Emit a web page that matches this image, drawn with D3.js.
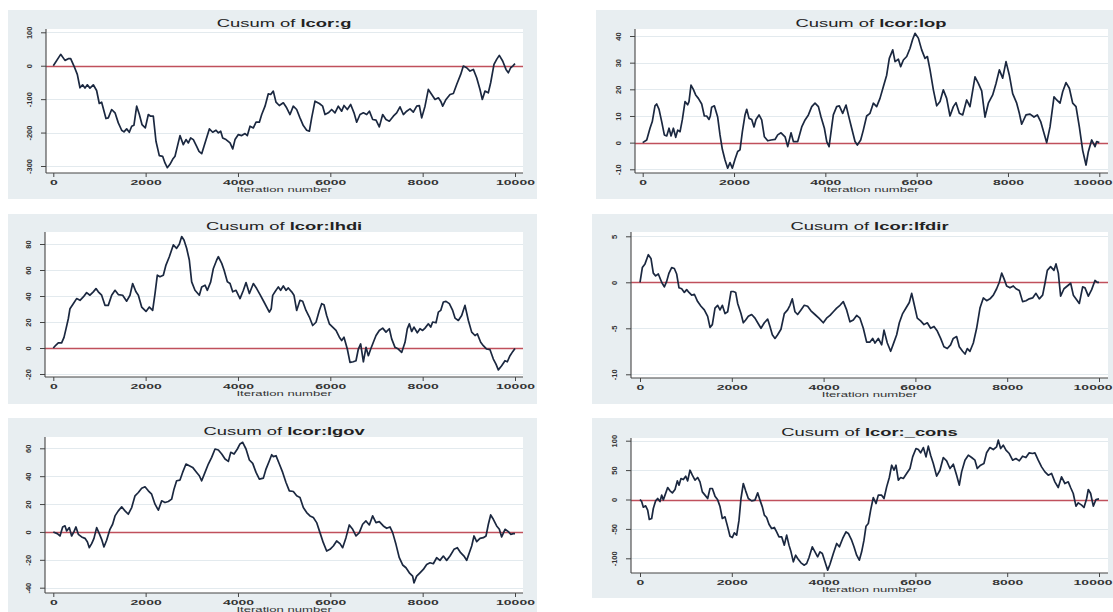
<!DOCTYPE html>
<html><head><meta charset="utf-8">
<script src="https://cdn.jsdelivr.net/npm/d3@7"></script>
<style>body{margin:0;background:#fff}svg{display:block}</style>
</head><body>
<svg id="c" width="1113" height="612"></svg>
<script>
// ---------- data ----------
const iterTicks = [0, 2000, 4000, 6000, 8000, 10000];
const paramNames = ["lcor:g", "lcor:lop", "lcor:lhdi", "lcor:lfdir", "lcor:lgov", "lcor:_cons"];
const yTicksG = [-300, -200, -100, 0, 100];
const yTicksLop = [-10, 0, 10, 20, 30, 40];
const yTicksLhdi = [-20, 0, 20, 40, 60, 80];
const yTicksLfdir = [-10, -5, 0, 5];
const yTicksLgov = [-40, -20, 0, 20, 40, 60];
const yTicksCons = [-100, -50, 0, 50, 100];

// [iteration, cusum]
const cusumG = [[0,0],[160,34],[253,16],[325,21],[376,21],[448,-1],[520,-26],[578,-66],[635,-57],[686,-67],[737,-57],[794,-67],[866,-57],[938,-74],[996,-113],[1047,-109],[1141,-158],[1191,-156],[1264,-131],[1337,-141],[1408,-171],[1481,-193],[1531,-198],[1589,-189],[1646,-199],[1698,-181],[1747,-178],[1806,-121],[1864,-146],[1921,-176],[1993,-186],[2058,-146],[2108,-151],[2166,-151],[2224,-226],[2296,-269],[2368,-271],[2419,-291],[2469,-305],[2527,-295],[2585,-280],[2636,-271],[2744,-209],[2816,-236],[2874,-221],[2925,-231],[2976,-216],[3033,-221],[3105,-241],[3156,-256],[3214,-263],[3286,-231],[3380,-189],[3452,-199],[3524,-193],[3575,-201],[3626,-196],[3669,-216],[3741,-221],[3828,-231],[3886,-249],[3936,-221],[4008,-206],[4081,-209],[4153,-203],[4203,-209],[4261,-181],[4333,-186],[4391,-169],[4463,-169],[4514,-146],[4586,-121],[4657,-84],[4708,-86],[4765,-76],[4823,-109],[4895,-119],[4982,-111],[5054,-126],[5127,-146],[5198,-121],[5271,-131],[5343,-156],[5415,-179],[5488,-193],[5546,-196],[5596,-156],[5668,-106],[5762,-113],[5834,-121],[5885,-146],[5957,-141],[6029,-131],[6101,-141],[6173,-121],[6246,-136],[6296,-119],[6368,-131],[6441,-116],[6513,-141],[6571,-169],[6643,-146],[6716,-141],[6788,-146],[6846,-136],[6918,-161],[6990,-163],[7061,-183],[7134,-146],[7206,-161],[7278,-166],[7365,-151],[7437,-141],[7509,-123],[7582,-146],[7654,-136],[7726,-129],[7798,-139],[7871,-121],[7928,-119],[7979,-156],[8051,-121],[8123,-71],[8196,-86],[8268,-101],[8340,-96],[8391,-106],[8434,-121],[8506,-101],[8593,-86],[8665,-83],[8737,-56],[8824,-26],[8881,-1],[8953,-6],[9026,-16],[9098,-11],[9170,-36],[9242,-71],[9292,-101],[9350,-76],[9422,-81],[9473,-51],[9545,4],[9603,19],[9660,31],[9733,14],[9805,-11],[9856,-21],[9906,-6],[9950,-1],[10000,6]];

const cusumLop = [[0,0],[88,1],[160,5.4],[210,7.9],[269,13.8],[306,14.5],[358,12.5],[416,7.9],[474,2.9],[526,2.5],[577,5.4],[621,2.5],[672,5.4],[723,2],[767,4.7],[818,4.1],[869,8.7],[927,15.4],[985,14.2],[1014,15.4],[1058,21.6],[1109,20],[1160,17.9],[1219,16.6],[1292,14.5],[1350,10],[1401,10],[1452,8.7],[1481,10],[1510,13.3],[1569,13.8],[1642,9.6],[1693,2.9],[1744,-2.5],[1803,-6.5],[1861,-9.6],[1912,-7.5],[1963,-9.6],[2022,-6.2],[2080,-3.3],[2131,-2.7],[2183,4.1],[2241,10.4],[2278,12.5],[2329,9.1],[2387,8.7],[2438,5.9],[2482,8.7],[2548,10.4],[2606,8.5],[2665,2.2],[2738,0.7],[2811,1],[2898,1.2],[2957,2.9],[3030,3.7],[3118,2.2],[3176,-1.5],[3249,3.7],[3300,0.4],[3395,0.4],[3483,5.9],[3556,8.5],[3629,10.4],[3702,13.5],[3774,14.8],[3848,13.5],[3906,9.6],[3979,5.4],[4031,0.4],[4082,-1.5],[4140,6],[4175,10.4],[4248,13.5],[4306,13.8],[4380,11],[4453,14.1],[4504,10.4],[4577,5.4],[4650,0.4],[4701,-0.9],[4774,1],[4832,4.7],[4905,10],[4978,11],[5051,14.8],[5124,13.5],[5197,16.6],[5270,21],[5343,25.3],[5401,31.6],[5476,34.8],[5527,30.4],[5600,31.3],[5650,28.5],[5709,31],[5782,32.3],[5855,35.4],[5913,38.8],[5964,41],[6037,39.2],[6110,34.8],[6183,31.6],[6235,32.3],[6293,27.3],[6366,19.8],[6439,13.8],[6512,15.4],[6584,19.8],[6657,16.6],[6730,10],[6804,13.5],[6862,15],[6935,11],[7008,10.4],[7095,16],[7168,13.5],[7278,24.7],[7351,22.2],[7424,19.4],[7497,9.6],[7570,14.8],[7665,17.9],[7738,22.2],[7811,27.3],[7884,24.2],[7957,30.4],[8030,25.3],[8103,18.4],[8191,14.8],[8249,11],[8300,6.9],[8395,10.4],[8483,10.7],[8570,9.6],[8643,10.4],[8716,7.9],[8789,3.5],[8848,0],[8921,5.9],[9008,17.2],[9067,16],[9140,14.8],[9198,19.1],[9271,22.5],[9344,20.4],[9417,14.8],[9490,13.5],[9563,5.9],[9636,-2.9],[9709,-8.4],[9760,-3.4],[9833,1],[9906,-1.5],[9943,0.4],[10000,0]];

const cusumLhdi = [[0,0],[58,2.3],[108,3.9],[180,3.9],[232,8.2],[275,14.7],[325,22.5],[361,30.2],[433,34.1],[505,38],[578,36.7],[650,39.3],[722,42.6],[794,40.6],[866,43.2],[925,45.7],[975,43.2],[1047,40.6],[1119,32.8],[1191,32.8],[1264,40.6],[1337,44.4],[1408,41.1],[1502,40.6],[1589,36],[1661,40.6],[1719,49.6],[1791,43.2],[1842,40.6],[1914,31.5],[2008,28.1],[2080,31.5],[2152,28.9],[2203,41.9],[2253,56],[2310,54.8],[2383,56],[2440,63.8],[2513,70.2],[2599,79.3],[2671,76.7],[2729,79.8],[2781,85.7],[2830,83.1],[2888,76.7],[2946,67.7],[2997,50.9],[3069,44.4],[3163,40.6],[3214,47],[3286,48.3],[3337,44.4],[3409,50.9],[3467,61.2],[3539,67.7],[3575,70.2],[3648,65.1],[3698,60],[3770,50.9],[3828,49.6],[3886,43.2],[3958,44.4],[4044,38],[4117,44.4],[4174,50.3],[4247,41.9],[4333,49.6],[4405,45.7],[4478,41.1],[4564,35.4],[4679,27.6],[4720,30.2],[4752,40.5],[4802,43.2],[4874,47],[4924,44.4],[4982,47.7],[5040,44.4],[5090,46.2],[5163,43.2],[5213,40.6],[5271,28.9],[5343,36.7],[5401,36],[5473,28.9],[5546,23.8],[5618,17.3],[5690,19.8],[5762,28.9],[5813,34.1],[5863,33.3],[5921,25],[5979,18.6],[6051,16.1],[6123,13.5],[6196,8.3],[6246,5.7],[6296,8.3],[6368,-0.8],[6426,-11.1],[6498,-10.6],[6556,-9.8],[6607,-0.8],[6657,3.1],[6716,-10.6],[6773,0.5],[6824,-5.9],[6875,-0.8],[6932,4.4],[6990,9.6],[7061,13.5],[7134,15.3],[7206,12.2],[7278,14.8],[7329,7],[7401,0.5],[7473,-0.8],[7545,-3.4],[7618,4.4],[7667,14.7],[7711,18.6],[7762,12.7],[7812,16.1],[7884,11.7],[7942,14.8],[8000,13.5],[8051,15.3],[8123,18.6],[8174,16.1],[8217,20],[8289,19.4],[8340,27.6],[8391,28.9],[8448,35.4],[8506,35.9],[8578,34.1],[8650,28.9],[8701,23],[8773,21.2],[8845,25],[8917,32.8],[8990,21.2],[9062,12.2],[9134,9.6],[9184,10.9],[9257,4.4],[9314,1.8],[9386,-0.8],[9459,-1.3],[9531,-8.5],[9588,-12.4],[9639,-16.8],[9711,-13.7],[9783,-9.8],[9834,-10.6],[9892,-5.9],[9950,-2.8],[10000,-0.3]];

const cusumLfdir = [[0,0],[51,1.6],[109,2],[181,3],[239,2.6],[290,1],[341,0.7],[399,0.9],[472,0],[530,-0.5],[581,0.1],[632,1],[690,1.6],[748,1.5],[799,0.9],[850,-0.6],[908,-0.7],[966,-1.1],[1017,-0.8],[1067,-1.1],[1126,-1.4],[1184,-1.3],[1256,-2.1],[1329,-2.6],[1401,-3],[1474,-3.7],[1525,-4.9],[1576,-4.6],[1634,-2.8],[1692,-2.5],[1743,-3],[1794,-2.5],[1852,-3.4],[1910,-3.2],[1983,-1],[2034,-1],[2084,-1.1],[2128,-2.3],[2200,-3.4],[2251,-4.4],[2302,-4.1],[2360,-3.7],[2433,-3.5],[2505,-3.9],[2564,-4.4],[2636,-5],[2709,-4.4],[2781,-4],[2832,-4.8],[2883,-5.7],[2941,-6.1],[2999,-5.7],[3071,-5.1],[3144,-3.4],[3216,-3],[3267,-2.5],[3318,-1.8],[3376,-3.2],[3434,-3.5],[3507,-3],[3579,-2.5],[3652,-2.6],[3724,-3.1],[3811,-3.5],[3898,-3.9],[3993,-4.4],[4065,-3.9],[4139,-3.6],[4212,-3.2],[4285,-2.8],[4357,-2.5],[4429,-2.1],[4502,-3],[4574,-4.3],[4647,-4.1],[4720,-3.6],[4792,-3.9],[4865,-5],[4938,-6.5],[5011,-6.5],[5069,-6.1],[5120,-6.6],[5192,-6.1],[5265,-6.8],[5316,-5.2],[5388,-6.6],[5461,-7.5],[5534,-6.5],[5592,-5.7],[5650,-4.4],[5722,-3.4],[5795,-2.8],[5867,-2.2],[5919,-1.2],[5969,-2.3],[6041,-3.9],[6114,-4.2],[6187,-4.6],[6259,-4.4],[6332,-5],[6405,-4.8],[6477,-5.3],[6550,-6.1],[6622,-7],[6695,-7.2],[6767,-6.8],[6825,-6.1],[6898,-5.9],[6956,-7],[7028,-7.5],[7081,-7.8],[7131,-7.2],[7189,-7.5],[7262,-6.6],[7334,-5],[7407,-2.8],[7480,-1.7],[7552,-2],[7625,-1.8],[7698,-1.4],[7770,-0.7],[7828,0],[7880,1],[7930,0.4],[7988,-0.4],[8061,-0.6],[8133,-0.4],[8191,-0.7],[8264,-0.9],[8336,-2.1],[8409,-2],[8481,-1.8],[8554,-1.7],[8627,-1.2],[8699,-1.8],[8772,-1.4],[8823,-0.1],[8874,1.3],[8946,1.7],[9019,1.3],[9063,2],[9114,1],[9164,-1.5],[9237,-0.7],[9310,-0.4],[9383,-0.1],[9441,-1.4],[9513,-1.9],[9571,-2.3],[9644,-0.5],[9695,-0.6],[9768,-1.5],[9840,-0.8],[9913,0.2],[9964,0],[10000,0]];

const cusumLgov = [[0,0],[87,-1.2],[145,-2.9],[203,3.6],[253,4.4],[289,0.7],[347,3.1],[397,-2.9],[448,0.2],[491,3.6],[542,-1.7],[614,-3.6],[686,-4.6],[737,-7],[780,-11.3],[831,-8.4],[881,-4.6],[939,3.1],[996,-1.2],[1047,-5.3],[1097,-10.8],[1155,-6],[1227,1.9],[1285,5.5],[1337,11.5],[1408,15.1],[1481,18],[1553,15.1],[1625,12.7],[1698,17.5],[1770,25.9],[1842,28.3],[1914,31.4],[1986,32.4],[2058,29.5],[2130,27.1],[2203,19.9],[2275,15.6],[2347,22.3],[2419,21.1],[2491,21.8],[2563,23.5],[2614,30.7],[2671,36.7],[2744,37.2],[2801,42.7],[2874,48.7],[2946,47.5],[3018,46.3],[3105,42.7],[3163,40.3],[3214,36.7],[3286,42.7],[3358,48.7],[3430,53.5],[3503,59.5],[3575,58.8],[3648,55.9],[3720,52.3],[3792,50.6],[3843,57.1],[3915,55.9],[3987,59.5],[4044,63.1],[4102,64.3],[4174,59.5],[4247,51.6],[4319,49.2],[4391,42.7],[4463,37.9],[4550,38.6],[4607,45.1],[4680,51.1],[4730,55.4],[4766,54],[4823,54.7],[4896,48.7],[4968,42.7],[5040,35.5],[5112,29.5],[5199,29],[5271,25.9],[5343,24.7],[5415,17.5],[5488,13.9],[5560,11.5],[5632,10.3],[5704,6.7],[5776,-0.5],[5848,-7.7],[5921,-13.7],[5993,-12.5],[6065,-10.1],[6137,-6.5],[6209,-8.4],[6267,-11.3],[6339,-4.1],[6411,5],[6484,1.9],[6556,-2.9],[6628,-0.5],[6700,5.5],[6772,7.9],[6845,5],[6917,11.5],[6989,6.7],[7061,7.4],[7148,4.3],[7220,2.6],[7292,3.6],[7350,-0.5],[7422,-8.9],[7494,-18.5],[7567,-23.7],[7639,-25.7],[7711,-29.3],[7783,-31.7],[7812,-36.5],[7870,-31.7],[7942,-29.3],[8014,-26.9],[8087,-23.3],[8159,-22.1],[8231,-22.8],[8303,-18.5],[8375,-20.4],[8448,-17.3],[8520,-20.4],[8592,-17.3],[8679,-12.5],[8751,-11.3],[8823,-14.9],[8895,-17.3],[8953,-20.4],[9011,-14.9],[9062,-10.1],[9112,-2.9],[9170,-7],[9242,-4.6],[9314,-4.1],[9372,-2.9],[9423,5.5],[9473,12.2],[9531,9.1],[9603,4.3],[9661,1.9],[9711,-3.6],[9784,1.9],[9856,0.2],[9906,-1.7],[9964,-1.2],[10000,-1.2]];

const cusumCons = [[0,0],[36,-3.4],[73,-13],[123,-10.8],[167,-18],[203,-34],[254,-32.3],[290,-15.3],[341,-2.3],[385,1.7],[436,-3.4],[472,7.4],[508,-0.6],[545,7.4],[603,20.4],[654,14.7],[705,11.3],[763,17],[813,31.7],[850,24.4],[893,35.7],[944,34],[995,39.7],[1038,31.7],[1089,49.8],[1140,41.3],[1198,32.9],[1256,37.4],[1307,30],[1358,13],[1416,7.4],[1474,1.7],[1525,18.7],[1576,18.7],[1634,5.7],[1692,-0.6],[1743,-12],[1794,-32.3],[1852,-29.5],[1910,-46.6],[1961,-62.4],[2012,-64.6],[2055,-56.7],[2106,-60.6],[2157,-35.1],[2200,1.7],[2251,27.2],[2302,14.7],[2360,1.7],[2433,-2.3],[2505,-1.1],[2564,11.3],[2614,-1.1],[2665,-12.5],[2709,-26.6],[2759,-30.6],[2810,-42],[2868,-49.3],[2926,-47.6],[2977,-55],[3028,-63.5],[3086,-63.5],[3144,-77.6],[3195,-60.6],[3246,-77.6],[3290,-89],[3341,-106],[3391,-94.7],[3435,-100.4],[3507,-107.7],[3580,-111.7],[3631,-108.8],[3682,-98.6],[3754,-80.5],[3812,-89],[3870,-97.5],[3921,-89],[3972,-91.8],[4030,-106],[4089,-120.2],[4139,-110],[4212,-91.8],[4285,-74.8],[4343,-80.5],[4416,-66.3],[4488,-55],[4539,-57.8],[4611,-69.2],[4662,-80.5],[4720,-94.7],[4778,-103.2],[4829,-89],[4880,-69.2],[4924,-45.4],[4974,-40.8],[5025,-18.1],[5083,3.4],[5142,-6.8],[5192,7.4],[5265,7.4],[5316,1.7],[5374,21.5],[5432,37.4],[5483,58.3],[5534,49.8],[5577,58.3],[5628,32.9],[5679,37.4],[5737,35.7],[5809,44.2],[5882,52.7],[5940,72.5],[6013,86.7],[6064,85],[6114,79.4],[6173,88.4],[6231,72.5],[6281,90.7],[6332,75.4],[6390,61.2],[6463,39.7],[6535,49.8],[6608,71.4],[6680,65.7],[6753,52.7],[6826,60],[6898,41.3],[6956,24.4],[7007,47],[7080,66.9],[7153,75.4],[7225,71.4],[7297,66.9],[7348,52.7],[7421,58.3],[7493,61.2],[7551,79.4],[7624,88.4],[7697,85],[7769,89.6],[7806,100.9],[7857,86.7],[7914,92.4],[7973,83.9],[8045,78.2],[8118,66.9],[8190,69.7],[8263,65.7],[8335,73.7],[8408,71.4],[8480,79.4],[8553,78.2],[8604,79.4],[8676,66.9],[8749,55.5],[8822,47],[8894,41.3],[8967,44.2],[9039,30],[9112,20.4],[9184,38.5],[9257,27.2],[9330,30],[9381,20.4],[9439,10.2],[9498,-11.3],[9549,-5.7],[9622,-9.6],[9673,-13.6],[9731,1.7],[9767,17],[9818,10.2],[9876,-11.3],[9934,0],[10000,1.1]];

// ---------- layout (pixels) ----------
const layout = [
  {box:[8,10,537,199],   plot:[46,29,523,173],   xr:[53.3,515],    yr:[166,32.3]},
  {box:[596,10,1113,199],plot:[635,29,1108,173], xr:[642.7,1099.3],yr:[169.3,36]},
  {box:[8,214,537,404],  plot:[45,232,523,377],  xr:[53.3,515],    yr:[374,244]},
  {box:[592,214,1113,404],plot:[631,232,1108,378],xr:[640,1099],   yr:[374.3,236.3]},
  {box:[8,418,537,612],  plot:[45,437,523,593],  xr:[53.3,515],    yr:[587.7,448.3]},
  {box:[592,418,1113,598],plot:[631,438,1108,573],xr:[640,1099],   yr:[558.3,440.7]}
];
const seriesList = [cusumG, cusumLop, cusumLhdi, cusumLfdir, cusumLgov, cusumCons];
const tickList = [yTicksG, yTicksLop, yTicksLhdi, yTicksLfdir, yTicksLgov, yTicksCons];

const FONT = "'Liberation Sans', Arial, Helvetica, sans-serif";
const SX = 1.75;
const W = 1113;
const svg = d3.select("#c");

layout.forEach((L, i) => {
  const data = seriesList[i], ticks = tickList[i];
  const [bx0, by0, bx1, by1] = L.box;
  const [px0, py0, px1, py1] = L.plot;
  const g = svg.append("g");

  g.append("rect").attr("x", bx0).attr("y", by0).attr("width", bx1 - bx0).attr("height", by1 - by0)
    .attr("fill", "#e8eef1");
  g.append("rect").attr("x", px0).attr("y", py0).attr("width", px1 - px0).attr("height", py1 - py0)
    .attr("fill", "#ffffff");

  const xs = d3.scaleLinear().domain([0, 10000]).range(L.xr);
  const ys = d3.scaleLinear().domain([ticks[0], ticks[ticks.length - 1]]).range(L.yr);

  // gridlines
  g.append("g").selectAll("line").data(ticks).join("line")
    .attr("x1", px0).attr("x2", px1)
    .attr("y1", d => Math.round(ys(d)) + 0.5).attr("y2", d => Math.round(ys(d)) + 0.5)
    .attr("stroke", "#e3eaee").attr("stroke-width", 1);

  // reference line at zero
  const y0 = Math.round(ys(0)) + 0.5;
  g.append("line").attr("x1", px0).attr("x2", px1)
    .attr("y1", y0).attr("y2", y0)
    .attr("stroke", "#c0505c").attr("stroke-width", 1.3);

  // cusum line
  const line = d3.line().x(d => xs(d[0])).y(d => ys(d[1]));
  g.append("path").datum(data).attr("d", line)
    .attr("fill", "none").attr("stroke", "#1b2840").attr("stroke-width", 1.7)
    .attr("stroke-linejoin", "round");

  // y axis
  const ya = g.append("g").attr("transform", `translate(${px0},0)`)
    .call(d3.axisLeft(ys).tickValues(ticks).tickSize(5).tickFormat(d => String(d)));
  ya.select(".domain").remove();
  ya.selectAll(".tick line").attr("stroke", "#444");
  ya.selectAll(".tick text")
    .attr("x", null).attr("dy", null)
    .attr("text-anchor", "middle")
    .attr("transform", "translate(-14.5,0) rotate(-90)")
    .attr("font-family", FONT).attr("font-size", 7.5).attr("font-weight", "bold")
    .attr("fill", "#333");
  g.append("line").attr("x1", px0).attr("x2", px0).attr("y1", py0).attr("y2", py1)
    .attr("stroke", "#444").attr("stroke-width", 1.1);

  // x axis
  const xa = g.append("g").attr("transform", `translate(0,${py1})`)
    .call(d3.axisBottom(xs).tickValues(iterTicks).tickSize(4).tickFormat(d => String(d)));
  xa.select(".domain").remove();
  xa.selectAll(".tick line").attr("stroke", "#444");
  xa.selectAll(".tick text")
    .attr("y", null).attr("dy", null)
    .attr("font-family", FONT).attr("font-size", 8).attr("font-weight", "bold")
    .attr("fill", "#333")
    .attr("transform", function(d) {
      // keep labels inside the picture
      const half = this.getComputedTextLength() * SX / 2;
      const cx = xs(d);
      const shift = Math.min(0, (W - 1) - (cx + half));
      return `translate(${shift},12) scale(${SX},1)`;
    });
  g.append("line").attr("x1", px0).attr("x2", px1).attr("y1", py1).attr("y2", py1)
    .attr("stroke", "#444").attr("stroke-width", 1.1);

  const xmid = (L.xr[0] + L.xr[1]) / 2;

  // x axis title
  g.append("text").attr("transform", `translate(${xmid},${py1 + 18.5}) scale(${SX},1)`)
    .attr("text-anchor", "middle").attr("font-family", FONT).attr("font-size", 7.5)
    .attr("fill", "#333").text("Iteration number");

  // panel title
  const t = g.append("text").attr("transform", `translate(${xmid},${py0 - 2.5}) scale(${SX},1)`)
    .attr("text-anchor", "middle").attr("font-family", FONT).attr("font-size", 10.5)
    .attr("fill", "#222");
  t.append("tspan").text("Cusum of ");
  t.append("tspan").attr("font-weight", "bold").text(paramNames[i]);
});
</script>
</body></html>
